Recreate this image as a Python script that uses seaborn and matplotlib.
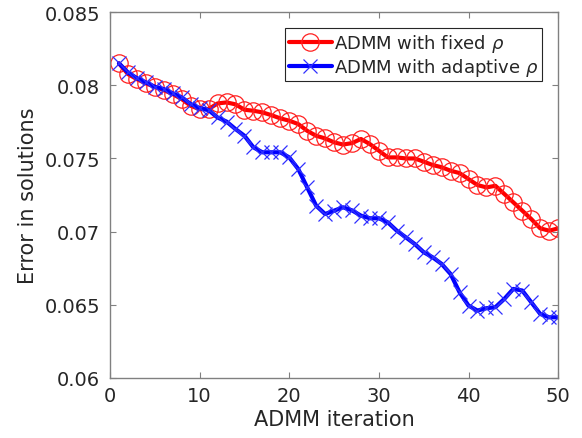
import numpy as np
import pandas as pd
import matplotlib
matplotlib.use("Agg")
import matplotlib.pyplot as plt
import seaborn as sns

iterations = list(range(1, 51))
fixed_rho = [0.0815, 0.08077, 0.08042, 0.08013, 0.0799, 0.07967, 0.0794, 0.07906, 0.0786, 0.07837,
             0.07837, 0.07876, 0.07883, 0.0787, 0.07833, 0.07826, 0.07815, 0.07796, 0.07774, 0.07758,
             0.07735, 0.07689, 0.07655, 0.07637, 0.0761, 0.07595, 0.07605, 0.07633, 0.07598, 0.07553,
             0.07507, 0.07507, 0.075, 0.075, 0.07478, 0.07455, 0.0744, 0.07416, 0.074, 0.07359,
             0.07318, 0.07302, 0.07313, 0.07257, 0.072, 0.07143, 0.07086, 0.07022, 0.07006, 0.07022]
adaptive_rho = [0.0815, 0.08088, 0.08049, 0.0802, 0.0799, 0.07974, 0.07945, 0.07917, 0.07872, 0.07844,
                0.0783, 0.0778, 0.07752, 0.07701, 0.07655, 0.07576, 0.07542, 0.07542, 0.07542, 0.07507,
                0.07428, 0.07302, 0.07177, 0.0712, 0.07143, 0.07166, 0.07145, 0.07109, 0.07091, 0.07091,
                0.07063, 0.07006, 0.06961, 0.06915, 0.06859, 0.06824, 0.06779, 0.0671, 0.06585, 0.06494,
                0.0646, 0.06476, 0.06483, 0.0654, 0.06608, 0.06597, 0.06517, 0.06437, 0.06414, 0.06414]
series_labels = [r"ADMM with fixed $\rho$", r"ADMM with adaptive $\rho$"]
x_ticks = [0, 10, 20, 30, 40, 50]
y_ticks = [0.06, 0.065, 0.07, 0.075, 0.08, 0.085]
y_tick_labels = ["0.06", "0.065", "0.07", "0.075", "0.08", "0.085"]

sns.set_theme(style="white")
plt.rcParams['font.family'] = ['DejaVu Sans']

fig = plt.figure(figsize=(5.82, 4.39), dpi=100)
ax = fig.add_axes([0.189, 0.137, 0.77, 0.833])

df_fixed = pd.DataFrame({"iter": iterations, "err": fixed_rho})
df_adapt = pd.DataFrame({"iter": iterations, "err": adaptive_rho})

sns.lineplot(data=df_fixed, x="iter", y="err", ax=ax, color="#ff0000", linewidth=3,
             marker="o", markersize=12.5, markerfacecolor="none", markeredgecolor="#ff2020",
             markeredgewidth=0.9, label=series_labels[0])
sns.lineplot(data=df_adapt, x="iter", y="err", ax=ax, color="#0000ff", linewidth=3,
             marker="x", markersize=10, markeredgecolor="#3030ff",
             markeredgewidth=0.9, label=series_labels[1])

ax.set_xlim(0, 50)
ax.set_ylim(0.06, 0.085)
ax.set_xticks(x_ticks)
ax.set_xticklabels([str(t) for t in x_ticks])
ax.set_yticks(y_ticks)
ax.set_yticklabels(y_tick_labels)
ax.set_xlabel("ADMM iteration", fontsize=15, color="#262626", labelpad=3)
ax.set_ylabel("Error in solutions", fontsize=15, color="#262626", labelpad=5)

for s in ax.spines.values():
    s.set_visible(True)
    s.set_color("#808080")
    s.set_linewidth(1.0)
ax.tick_params(axis="both", which="both", direction="in", length=4, width=0.8,
               color="#808080", labelsize=14, labelcolor="#262626",
               top=True, right=True, bottom=True, left=True)
ax.tick_params(axis="x", pad=6)
ax.tick_params(axis="y", pad=7)

leg = ax.legend(loc="upper right", fontsize=13, frameon=True, fancybox=False,
                edgecolor="#262626", framealpha=1, borderpad=0.2, handlelength=2.4,
                handletextpad=0.1, labelspacing=0.1, borderaxespad=0.9)
leg.get_frame().set_linewidth(0.8)

fig.savefig("out.png", dpi=100)
